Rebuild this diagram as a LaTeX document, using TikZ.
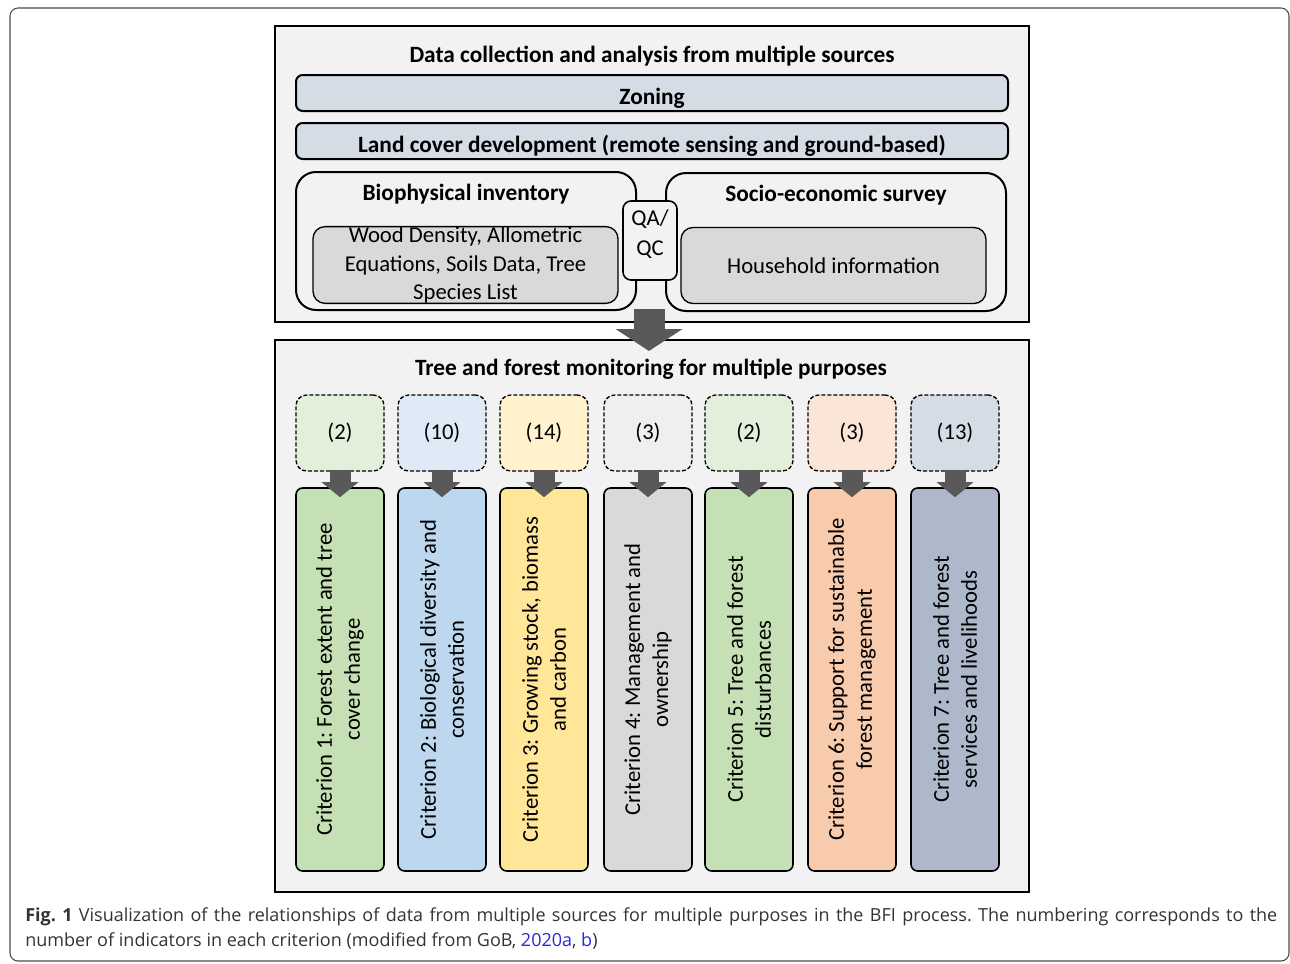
\documentclass[tikz,border=0pt]{standalone}
\usepackage{fontspec}
\setmainfont{Carlito}
\newfontfamily\capfont{Open Sans}
\usetikzlibrary{positioning,arrows.meta}
\frenchspacing
\definecolor{panelgray}{HTML}{F2F2F2}
\definecolor{barblue}{HTML}{D6DCE5}
\definecolor{innergray}{HTML}{D9D9D9}
\definecolor{arrowgray}{HTML}{595959}
\definecolor{linkblue}{HTML}{2A2AD8}
\definecolor{softA}{HTML}{E2EFDA}\definecolor{hardA}{HTML}{C5E0B4}
\definecolor{softB}{HTML}{DEEBF7}\definecolor{hardB}{HTML}{BDD7EE}
\definecolor{softC}{HTML}{FFF2CC}\definecolor{hardC}{HTML}{FFE699}
\definecolor{softD}{HTML}{EFEFEF}\definecolor{hardD}{HTML}{D9D9D9}
\definecolor{softF}{HTML}{FBE5D6}\definecolor{hardF}{HTML}{F8CBAD}
\definecolor{softG}{HTML}{D6DCE5}\definecolor{hardG}{HTML}{ADB9CA}

\begin{document}
\begin{tikzpicture}[x=0.75pt, y=-0.75pt,
  panel/.style={draw, line width=1.5pt, fill=panelgray, inner sep=0pt},
  bar/.style={draw, line width=1.5pt, fill=barblue, rounded corners=5pt, inner sep=0pt, minimum width=534pt, minimum height=27pt, text height=21pt, text depth=3.5pt, font=\fontsize{17.5}{21}\selectfont\bfseries},
  survey/.style={draw, line width=1.5pt, fill=panelgray, rounded corners=15pt, minimum width=255pt, minimum height=103.5pt, inner sep=0pt},
  inner/.style={draw, line width=1pt, fill=innergray, rounded corners=9pt, inner sep=0pt, minimum width=228.75pt, minimum height=57pt, align=center, font=\fontsize{17}{21.5}\selectfont},
  title/.style={anchor=base, inner sep=0pt, font=\fontsize{17.5}{21}\selectfont\bfseries},
  count/.style={draw, dash pattern=on 3pt off 1.5pt, line width=1pt, rounded corners=8pt, minimum width=66pt, minimum height=57pt, inner sep=0pt, font=\fontsize{17}{20}\selectfont},
  criterion/.style={draw, line width=1.2pt, rounded corners=5pt, rotate=90, minimum width=287.25pt, minimum height=66pt, inner sep=0pt, align=center, font=\fontsize{17}{21}\selectfont},
  smallarrow/.style={arrowgray, line width=15.75pt, -{Triangle[width=27pt,length=11.25pt]}},
  bigarrow/.style={arrowgray, line width=23.25pt, -{Triangle[width=49.5pt,length=16.5pt]}},
]
\useasboundingbox (0,0) rectangle (1290,964);
\draw[black!70, line width=0.8pt, rounded corners=6pt] (10,8) rectangle (1289,961);

% data collection panel
\node[panel, minimum width=565.5pt, minimum height=222pt] (data) at (652,174) {};
\node[title] (datatitle) at (652,62) {Data collection and analysis from multiple sources};
\node[bar] (zoning) at (652,93) {Zoning};
\node[bar] (landcover) at (652,141) {Land cover development (remote sensing and ground-based)};

\node[survey] (bio) at (466,241) {};
\node[title] (biotitle) at (466,200) {Biophysical inventory};
\node[inner] (bioin) at (465.5,265) {Wood Density, Allometric\\Equations, Soils Data, Tree\\Species List};

\node[survey] (socio) at (836,242) {};
\node[title] (sociotitle) at (836,201) {Socio-economic survey};
\node[inner] (socioin) at (833.5,265.5) {Household information};

\node[draw, line width=1.2pt, fill=panelgray, rounded corners=6pt, minimum width=40.5pt, minimum height=59.25pt, inner sep=0pt] (qaqc) at (650,240.5) {};
\node[align=center, font=\fontsize{17}{22.5}\selectfont] (qatext) at (650,234) {QA/\\QC};

% monitoring panel
\node[panel, minimum width=565.5pt, minimum height=414pt] (mon) at (652,616) {};
\node[title] (montitle) at (651,375) {Tree and forest monitoring for multiple purposes};

\foreach \n/\x/\num/\c/\txt in {
  1/340/2/A/{Criterion 1: Forest extent and tree\\cover change},
  2/442/10/B/{Criterion 2: Biological diversity and\\conservation},
  3/544/14/C/{Criterion 3: Growing stock, biomass\\and carbon},
  4/648/3/D/{Criterion 4: Management and\\ownership},
  5/749/2/A/{Criterion 5: Tree and forest\\disturbances},
  6/852/3/F/{Criterion 6: Support for sustainable\\forest management},
  7/955/13/G/{Criterion 7: Tree and forest\\services and livelihoods}}{
  \node[count, fill=soft\c] (cnt\n) at (\x,433) {(\num)};
  \node[criterion, fill=hard\c] (crit\n) at (\x,679.5) {\txt};
  \draw[smallarrow] ([yshift=1.5pt]cnt\n.south) -- ([yshift=-7.5pt]crit\n.east);
}

\coordinate (bigtail) at ([xshift=-2.25pt,yshift=10.5pt]data.south);
\coordinate (bighead) at ([xshift=-2.25pt,yshift=-9pt]mon.north);
\draw[bigarrow] (bigtail) -- (bighead);

% caption
\node[anchor=north west, text width=939pt, inner sep=0pt, align=justify, text=black!80,
  font=\capfont\fontsize{13.5}{18.75}\selectfont] (caption) at (25,907)
  {\textbf{Fig. 1} Visualization of the relationships of data from multiple sources for multiple purposes in the BFI process. The numbering corresponds to the\linebreak number of indicators in each criterion (modified from GoB, \textcolor{linkblue}{2020a}, \textcolor{linkblue}{b})};
\end{tikzpicture}
\end{document}
